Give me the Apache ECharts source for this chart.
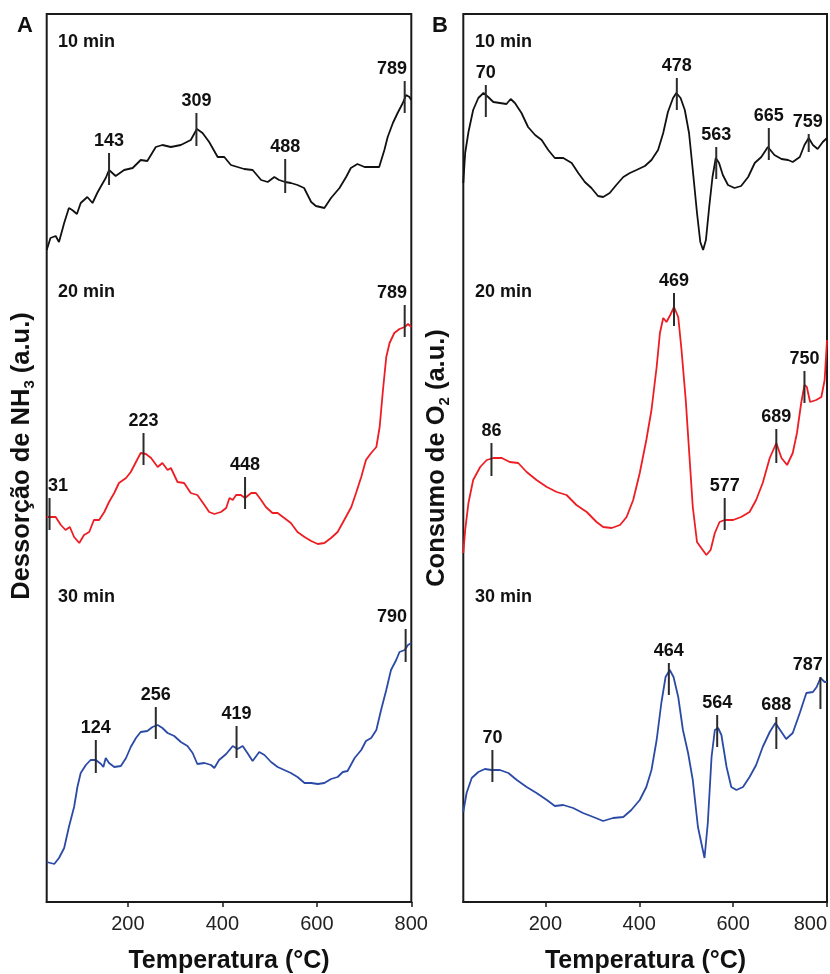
<!DOCTYPE html>
<html>
<head>
<meta charset="utf-8">
<script src="https://cdn.jsdelivr.net/npm/echarts/dist/echarts.min.js"></script>
<style>
html,body{margin:0;padding:0;background:#fff;}
#chart{width:830px;height:974px;}
</style>
</head>
<body>
<div id="chart"></div>
<script>
// ---------- data (temperature °C, intensity a.u. — stacked as in the figure) ----------
const xTicks = [200, 400, 600, 800];
const panelTitles = ['Dessorção de NH', 'Consumo de O'];
const curveLabels = ['10 min', '20 min', '30 min'];

// Panel A: NH3-TPD
const a10 = [[28,652],[36,664],[47,666],[54,660],[65,679],[75,694],[82,692],[92,688],[100,699],[114,705],[125,699],[135,709],[142,715],[153,724],[160,732],[174,726],[192,732],[210,734],[227,742],[241,741],[259,755],[273,757],[291,755],[312,757],[333,762],[346,773],[358,769],[372,760],[390,745],[404,745],[418,737],[432,735],[446,733],[464,732],[482,722],[496,720],[510,725],[520,722],[533,720],[545,719],[559,717],[573,714],[588,700],[598,696],[616,694],[630,704],[648,714],[662,725],[672,734],[686,738],[701,735],[718,735],[732,735],[743,752],[750,765],[761,779],[771,789],[782,799],[789,807],[796,805],[800,802]];
const a20 = [[28,385],[33,385],[47,385],[58,377],[68,372],[77,375],[86,365],[97,359],[107,367],[118,370],[128,382],[139,382],[150,390],[160,400],[171,409],[181,419],[196,424],[206,430],[217,440],[227,449],[238,448],[249,444],[263,435],[273,439],[284,432],[291,434],[305,420],[319,419],[333,409],[347,407],[362,397],[372,390],[383,388],[397,390],[408,394],[415,404],[422,402],[429,407],[439,407],[448,404],[461,409],[471,409],[482,402],[492,395],[506,389],[517,389],[531,384],[545,379],[559,370],[574,365],[588,361],[602,358],[616,359],[630,364],[644,370],[658,382],[673,395],[683,409],[694,425],[704,442],[715,449],[726,455],[733,475],[740,512],[747,545],[754,559],[764,569],[775,573],[786,575],[793,578],[800,575]];
const a30 = [[28,40],[29,40],[44,38],[54,44],[65,54],[75,75],[86,95],[93,115],[100,129],[111,137],[121,142],[132,142],[143,138],[148,135],[153,144],[160,139],[171,135],[185,136],[196,144],[206,155],[217,164],[227,170],[241,171],[252,175],[263,177],[273,174],[284,169],[298,166],[312,160],[326,156],[337,149],[347,138],[362,139],[376,137],[383,134],[393,142],[408,148],[422,156],[432,153],[443,156],[453,149],[464,141],[478,150],[489,147],[503,140],[517,135],[531,132],[545,129],[559,125],[574,119],[588,119],[602,118],[616,119],[630,123],[644,125],[655,130],[665,131],[680,144],[694,152],[704,161],[715,164],[726,172],[736,192],[747,212],[757,232],[768,242],[775,250],[786,252],[793,257],[800,259]];

// Panel B: O2 consumption
const b10 = [[25,719],[29,749],[36,770],[46,792],[57,804],[68,809],[78,805],[89,800],[103,799],[117,798],[126,803],[135,799],[149,789],[163,775],[178,767],[192,762],[206,752],[220,744],[238,744],[256,739],[270,729],[284,720],[298,714],[312,706],[323,705],[337,709],[351,717],[366,725],[380,729],[394,732],[412,736],[426,742],[440,752],[451,769],[461,790],[472,804],[479,809],[488,804],[497,792],[506,769],[514,732],[523,689],[530,660],[536,652],[542,662],[549,695],[556,725],[563,744],[570,739],[578,727],[589,717],[603,714],[617,716],[632,725],[646,739],[660,745],[674,755],[688,747],[703,743],[717,742],[727,740],[742,745],[752,757],[761,764],[770,757],[780,753],[791,760],[800,764]];
const b20 = [[25,349],[29,372],[36,399],[46,422],[61,435],[75,442],[89,444],[107,444],[124,440],[142,439],[160,430],[181,422],[203,415],[224,410],[245,407],[266,397],[288,390],[309,380],[323,375],[341,374],[359,377],[373,385],[387,402],[401,429],[415,462],[426,492],[437,535],[444,569],[451,584],[458,580],[466,587],[474,595],[483,585],[490,552],[499,502],[507,445],[514,395],[523,360],[532,354],[543,347],[552,352],[561,369],[571,380],[582,382],[600,382],[617,385],[635,390],[649,402],[663,419],[678,444],[692,459],[703,444],[715,437],[727,449],[736,469],[745,499],[752,517],[757,515],[764,500],[777,502],[788,505],[795,522],[800,562]];
const b30 = [[25,90],[32,109],[43,124],[57,130],[71,133],[85,132],[103,132],[121,129],[139,122],[160,115],[181,109],[203,102],[220,96],[238,97],[259,94],[280,89],[302,85],[323,81],[344,84],[366,85],[383,92],[401,102],[415,115],[426,132],[437,162],[447,199],[456,225],[465,232],[473,225],[483,205],[493,172],[504,149],[514,122],[525,75],[534,55],[539,44],[546,79],[554,145],[561,172],[568,174],[575,167],[586,135],[596,115],[607,112],[621,115],[635,125],[649,137],[663,155],[678,170],[690,179],[703,170],[713,163],[727,169],[742,189],[756,209],[770,210],[778,215],[786,224],[795,220],[800,220]];

// peak markers: [temperature, low, high] and their labels
const a10Peaks = [[160,717,749],[345,756,789],[533,709,743],[786,789,821]];
const a10PeakLabels = ['143','309','488','789'];
const a20Peaks = [[34,372,404],[233,437,469],[448,393,425],[786,565,597]];
const a20PeakLabels = ['31','223','448','789'];
const a30Peaks = [[132,129,162],[259,163,195],[430,144,176],[788,240,273]];
const a30PeakLabels = ['124','256','419','790'];
const b10Peaks = [[73,785,817],[480,792,824],[564,723,755],[676,742,774],[761,750,768]];
const b10PeakLabels = ['70','478','563','665','759'];
const b20Peaks = [[85,426,459],[474,576,609],[582,372,404],[692,439,473],[752,499,531]];
const b20PeakLabels = ['86','469','577','689','750'];
const b30Peaks = [[87,120,152],[463,207,239],[566,155,187],[692,153,185],[786,193,225]];
const b30PeakLabels = ['70','464','564','688','787'];

// ---------- chart ----------
const FONT = '"Liberation Sans", Arial, Helvetica, sans-serif';
const COLORS = ['#111111', '#ee1d23', '#2b4aa6'];
const chart = echarts.init(document.getElementById('chart'), null, {renderer: 'canvas'});

function peakRenderer(labels) {
  return function (params, api) {
    const x = api.value(0), lo = api.value(1), hi = api.value(2);
    const p0 = api.coord([x, lo]);
    const p1 = api.coord([x, hi]);
    const cs = params.coordSys;
    const lbl = labels[params.dataIndex];
    const w = lbl.length * 10.2;
    let cx = p0[0];
    cx = Math.min(cx, cs.x + cs.width - 4 - w / 2);
    cx = Math.max(cx, cs.x + 1 + w / 2);
    return {
      type: 'group',
      children: [
        {type: 'line', shape: {x1: p0[0], y1: p0[1], x2: p1[0], y2: p1[1]},
         style: {stroke: '#2b2b2b', lineWidth: 2}},
        {type: 'text', x: cx, y: p1[1] - 12,
         style: {text: lbl, fontSize: 18, fontWeight: 'bold', fontFamily: FONT, fill: '#111',
                 align: 'center', verticalAlign: 'middle'}}
      ]
    };
  };
}

function lineSeries(idx, data, color) {
  return {type: 'line', xAxisIndex: idx, yAxisIndex: idx, data: data, showSymbol: false,
          symbol: 'none', lineStyle: {color: color, width: 1.8}, z: 2, animation: false};
}
function peakSeries(idx, peaks, labels) {
  return {type: 'custom', xAxisIndex: idx, yAxisIndex: idx, data: peaks,
          renderItem: peakRenderer(labels), encode: {x: 0, y: [1, 2]}, z: 5, animation: false, clip: false};
}

function xAxis(idx, min, alignMax) {
  return {
    gridIndex: idx, type: 'value', min: min, max: 800,
    splitLine: {show: false},
    axisLine: {show: true, lineStyle: {color: '#1a1a1a', width: 2}},
    axisTick: {show: true, customValues: xTicks, length: 5, lineStyle: {color: '#1a1a1a', width: 1.5}},
    axisLabel: {customValues: xTicks, fontSize: 20, color: '#222', fontFamily: FONT, margin: 12,
                alignMaxLabel: alignMax ? 'right' : null}
  };
}

const titleRich = {
  t: {fontSize: 25.5, fontWeight: 'bold', fontFamily: FONT, fill: '#111', lineHeight: 30},
  s: {fontSize: 15, fontWeight: 'bold', fontFamily: FONT, fill: '#111', lineHeight: 8, verticalAlign: 'bottom'}
};

const graphics = [
  {type: 'text', x: 25, y: 26, style: {text: 'A', fontSize: 22, fontWeight: 'bold', fontFamily: FONT, fill: '#111', align: 'center', verticalAlign: 'middle'}},
  {type: 'text', x: 440, y: 26, style: {text: 'B', fontSize: 22, fontWeight: 'bold', fontFamily: FONT, fill: '#111', align: 'center', verticalAlign: 'middle'}},
  {type: 'text', x: 229, y: 961, style: {text: 'Temperatura (°C)', fontSize: 25, fontWeight: 'bold', fontFamily: FONT, fill: '#111', align: 'center', verticalAlign: 'middle'}},
  {type: 'text', x: 645.5, y: 961, style: {text: 'Temperatura (°C)', fontSize: 25, fontWeight: 'bold', fontFamily: FONT, fill: '#111', align: 'center', verticalAlign: 'middle'}},
  {type: 'text', x: 22, y: 456, rotation: Math.PI / 2,
   style: {text: '{t|' + panelTitles[0] + '}{s|3}{t| (a.u.)}', rich: titleRich, align: 'center', verticalAlign: 'middle'}},
  {type: 'text', x: 437, y: 458, rotation: Math.PI / 2,
   style: {text: '{t|' + panelTitles[1] + '}{s|2}{t| (a.u.)}', rich: titleRich, align: 'center', verticalAlign: 'middle'}}
];
const minLabelY = [42, 292, 597];
[58, 475].forEach(function (lx) {
  curveLabels.forEach(function (txt, i) {
    graphics.push({type: 'text', x: lx, y: minLabelY[i],
      style: {text: txt, fontSize: 18, fontWeight: 'bold', fontFamily: FONT, fill: '#111', align: 'left', verticalAlign: 'middle'}});
  });
});

const option = {
  animation: false,
  backgroundColor: '#fff',
  grid: [
    {left: 46.7, top: 14, width: 364.6, height: 888, show: true, borderColor: '#1a1a1a', borderWidth: 2, backgroundColor: 'transparent'},
    {left: 463.3, top: 14, width: 364.4, height: 888, show: true, borderColor: '#1a1a1a', borderWidth: 2, backgroundColor: 'transparent'}
  ],
  xAxis: [xAxis(0, 28, false), xAxis(1, 25, true)],
  yAxis: [
    {gridIndex: 0, type: 'value', min: 0, max: 888, show: false},
    {gridIndex: 1, type: 'value', min: 0, max: 888, show: false}
  ],
  series: [
    lineSeries(0, a10, COLORS[0]), lineSeries(0, a20, COLORS[1]), lineSeries(0, a30, COLORS[2]),
    lineSeries(1, b10, COLORS[0]), lineSeries(1, b20, COLORS[1]), lineSeries(1, b30, COLORS[2]),
    peakSeries(0, a10Peaks, a10PeakLabels), peakSeries(0, a20Peaks, a20PeakLabels), peakSeries(0, a30Peaks, a30PeakLabels),
    peakSeries(1, b10Peaks, b10PeakLabels), peakSeries(1, b20Peaks, b20PeakLabels), peakSeries(1, b30Peaks, b30PeakLabels)
  ],
  graphic: graphics
};
chart.setOption(option);
</script>
</body>
</html>
